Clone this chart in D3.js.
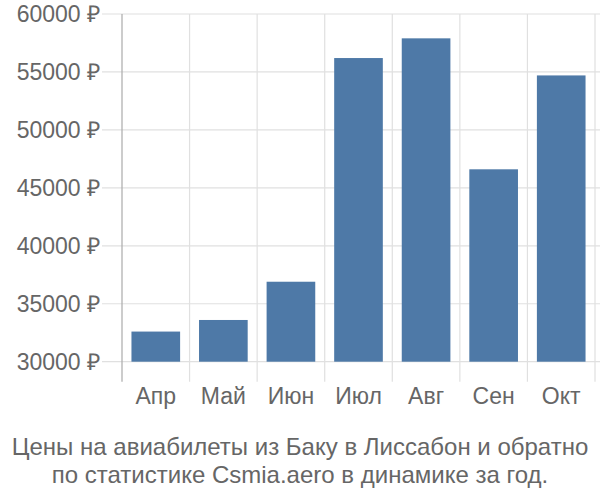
<!DOCTYPE html>
<html><head><meta charset="utf-8">
<script src="https://cdn.jsdelivr.net/npm/d3@7"></script>
<style>body{margin:0;background:#fff}svg{display:block}text{font-family:"Liberation Sans",Arial,sans-serif}</style>
</head><body>
<svg id="c" width="600" height="500"></svg>
<script>
const months = ["Апр","Май","Июн","Июл","Авг","Сен","Окт"];
const prices = [32600, 33600, 36900, 56200, 57900, 46600, 54700];
const yTicks = [30000, 35000, 40000, 45000, 50000, 55000, 60000];
const titleLines = ["Цены на авиабилеты из Баку в Лиссабон и обратно","по статистике Csmia.aero в динамике за год."];

(function(){
const svg = d3.select("#c");
const pLeft = 122, pRight = 595, pTop = 14, pBottom = 361.7;
const x = d3.scaleBand().domain(months).range([pLeft, pRight]).paddingInner(0.28).paddingOuter(0.14);
const y = d3.scaleLinear().domain([30000, 60000]).range([pBottom, pTop]);

svg.append("g").selectAll("line").data(yTicks).join("line")
  .attr("x1", 102).attr("x2", 600)
  .attr("y1", d => y(d)).attr("y2", d => y(d))
  .attr("stroke", "#e0e0e0").attr("stroke-width", 1.2);
const step = x.step();
const bounds = d3.range(months.length + 1).map(i => pLeft + i * step);
svg.append("g").selectAll("line").data(bounds).join("line")
  .attr("x1", d => d).attr("x2", d => d)
  .attr("y1", pTop).attr("y2", pBottom + 20)
  .attr("stroke", (d, i) => i === 0 ? "#aaaaaa" : "#e0e0e0").attr("stroke-width", 1.2);

svg.append("g").selectAll("text").data(yTicks).join("text")
  .attr("x", 100).attr("y", d => y(d)).attr("dy", "0.35em")
  .attr("text-anchor", "end").attr("fill", "#666").attr("font-size", 23)
  .text(d => d + " ₽");

svg.append("g").selectAll("rect").data(prices).join("rect")
  .attr("x", (d, i) => x(months[i])).attr("width", x.bandwidth())
  .attr("y", d => y(d)).attr("height", d => pBottom - y(d))
  .attr("fill", "#4e79a7");

svg.append("g").selectAll("text").data(months).join("text")
  .attr("x", d => x(d) + x.bandwidth() / 2).attr("y", 404)
  .attr("text-anchor", "middle").attr("fill", "#666").attr("font-size", 23)
  .text(d => d);

svg.append("g").selectAll("text").data(titleLines).join("text")
  .attr("x", 300).attr("y", (d, i) => 455 + i * 28)
  .attr("text-anchor", "middle").attr("fill", "#666").attr("font-size", 24)
  .text(d => d);
})();
</script>
</body></html>
